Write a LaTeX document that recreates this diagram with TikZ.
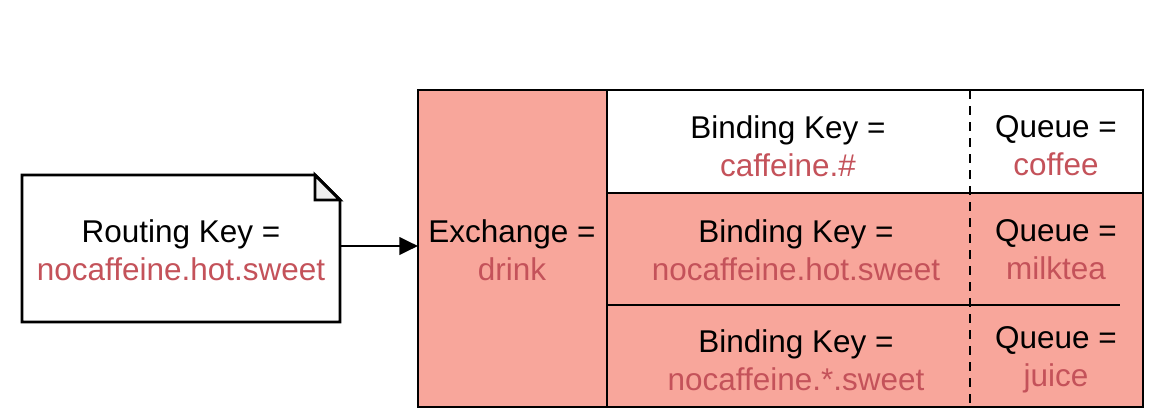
\documentclass[tikz,border=0pt]{standalone}
\usepackage{fontspec}
\setmainfont{Liberation Sans}
\definecolor{salmon}{HTML}{F8A69B}
\definecolor{redtxt}{HTML}{C4525A}
\definecolor{foldgray}{HTML}{EEEEEE}
\usetikzlibrary{arrows.meta}
\begin{document}
\begin{tikzpicture}[x=0.75pt,y=-0.75pt,
  lbl/.style={align=center,font=\fontsize{23.6}{28.5}\selectfont,inner sep=0pt},
  box/.style={line width=2.2pt},
  arr/.style={line width=2.2pt,-{Triangle[length=14pt,width=13pt]}}]
\useasboundingbox (0,0) rectangle (1154,411);
% document
\draw[box,fill=white] (22,175) -- (315,175) -- (340,200) -- (340,322) -- (22,322) -- cycle;
\draw[box,fill=foldgray,line join=miter] (315,175) -- (315,200) -- (340,200) -- cycle;
\node[lbl] (rk) at (181,250) {Routing Key =\\\textcolor{redtxt}{nocaffeine.hot.sweet}};
\coordinate (docR) at (340,246);
% table
\fill[salmon] (418,90) rectangle (607,407);
\fill[salmon] (607,193) rectangle (1143,407);
\draw[box] (418,90) rectangle (1143,407);
\draw[box] (607,90) -- (607,407);
\draw[box] (607,193) -- (1143,193);
\draw[box] (607,305) -- (1120,305);
\draw[line width=2pt,dash pattern=on 7pt off 5pt] (970,90) -- (970,407);
\coordinate (exL) at (418,246);
\draw[arr] (docR) -- (exL);
\node[lbl] (ex) at (512,250) {Exchange =\\\textcolor{redtxt}{drink}};
\node[lbl] (b1) at (788,146) {Binding Key =\\\textcolor{redtxt}{caffeine.\#}};
\node[lbl] (q1) at (1056,146) {Queue =\\\textcolor{redtxt}{coffee}};
\node[lbl] (b2) at (796,250) {Binding Key =\\\textcolor{redtxt}{nocaffeine.hot.sweet}};
\node[lbl] (q2) at (1056,250) {Queue =\\\textcolor{redtxt}{milktea}};
\node[lbl] (b3) at (796,360) {Binding Key =\\\textcolor{redtxt}{nocaffeine.*.sweet}};
\node[lbl] (q3) at (1056,360) {Queue =\\\textcolor{redtxt}{juice}};
\end{tikzpicture}
\end{document}
